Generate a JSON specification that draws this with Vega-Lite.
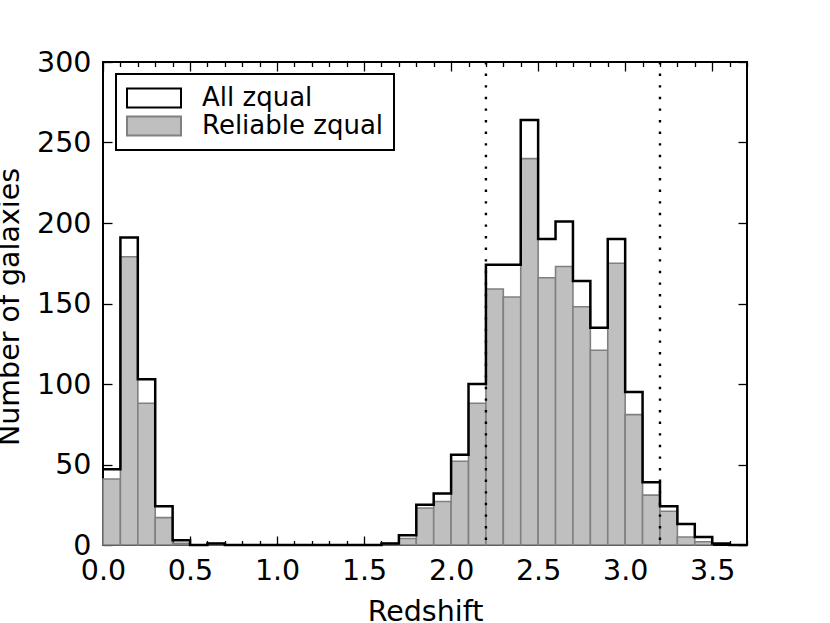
{
  "$schema": "https://vega.github.io/schema/vega-lite/v6.json",
  "width": 644,
  "height": 483,
  "autosize": {"type": "none"},
  "padding": {"left": 103, "top": 62, "right": 83, "bottom": 78},
  "background": "white",
  "config": {
    "view": {"stroke": "black", "strokeWidth": 2},
    "font": "DejaVu Sans",
    "axis": {
      "domain": false,
      "grid": false,
      "tickColor": "black",
      "tickWidth": 1.3,
      "labelColor": "black",
      "labelFont": "DejaVu Sans",
      "labelFontSize": 28.5,
      "titleFont": "DejaVu Sans",
      "titleFontSize": 28.5,
      "titleFontWeight": "normal",
      "titleColor": "black",
      "labelFlush": false,
      "labelOverlap": false
    },
    "legend": {
      "labelFont": "DejaVu Sans",
      "labelFontSize": 26,
      "labelColor": "black",
      "labelLimit": 400,
      "strokeWidth": 2
    }
  },
  "datasets": {
    "bins": [
      {"x0": 0.0, "x1": 0.1, "all": 47, "rel": 41},
      {"x0": 0.1, "x1": 0.2, "all": 191, "rel": 179},
      {"x0": 0.2, "x1": 0.3, "all": 103, "rel": 88},
      {"x0": 0.3, "x1": 0.4, "all": 24, "rel": 17},
      {"x0": 0.4, "x1": 0.5, "all": 3, "rel": 1},
      {"x0": 0.5, "x1": 0.6, "all": 0, "rel": 0},
      {"x0": 0.6, "x1": 0.7, "all": 1, "rel": 1},
      {"x0": 0.7, "x1": 0.8, "all": 0, "rel": 0},
      {"x0": 0.8, "x1": 0.9, "all": 0, "rel": 0},
      {"x0": 0.9, "x1": 1.0, "all": 0, "rel": 0},
      {"x0": 1.0, "x1": 1.1, "all": 0, "rel": 0},
      {"x0": 1.1, "x1": 1.2, "all": 0, "rel": 0},
      {"x0": 1.2, "x1": 1.3, "all": 0, "rel": 0},
      {"x0": 1.3, "x1": 1.4, "all": 0, "rel": 0},
      {"x0": 1.4, "x1": 1.5, "all": 0, "rel": 0},
      {"x0": 1.5, "x1": 1.6, "all": 0, "rel": 0},
      {"x0": 1.6, "x1": 1.7, "all": 1, "rel": 1},
      {"x0": 1.7, "x1": 1.8, "all": 6, "rel": 4},
      {"x0": 1.8, "x1": 1.9, "all": 25, "rel": 23},
      {"x0": 1.9, "x1": 2.0, "all": 32, "rel": 27},
      {"x0": 2.0, "x1": 2.1, "all": 56, "rel": 52},
      {"x0": 2.1, "x1": 2.2, "all": 100, "rel": 88},
      {"x0": 2.2, "x1": 2.3, "all": 174, "rel": 159},
      {"x0": 2.3, "x1": 2.4, "all": 174, "rel": 154},
      {"x0": 2.4, "x1": 2.5, "all": 264, "rel": 240},
      {"x0": 2.5, "x1": 2.6, "all": 190, "rel": 166},
      {"x0": 2.6, "x1": 2.7, "all": 201, "rel": 173},
      {"x0": 2.7, "x1": 2.8, "all": 164, "rel": 148},
      {"x0": 2.8, "x1": 2.9, "all": 135, "rel": 121},
      {"x0": 2.9, "x1": 3.0, "all": 190, "rel": 175},
      {"x0": 3.0, "x1": 3.1, "all": 95, "rel": 81},
      {"x0": 3.1, "x1": 3.2, "all": 39, "rel": 31},
      {"x0": 3.2, "x1": 3.3, "all": 24, "rel": 21},
      {"x0": 3.3, "x1": 3.4, "all": 13, "rel": 5},
      {"x0": 3.4, "x1": 3.5, "all": 5, "rel": 2},
      {"x0": 3.5, "x1": 3.6, "all": 1, "rel": 0},
      {"x0": 3.6, "x1": 3.7, "all": 0, "rel": 0},
      {"x0": 3.7, "x1": 3.7, "all": 0, "rel": 0}
    ],
    "marks": [
      {"z": 2.2},
      {"z": 3.2}
    ]
  },
  "layer": [
    {
      "data": {"name": "bins"},
      "transform": [{"filter": "datum.rel > 0"}],
      "mark": {"type": "rect", "strokeWidth": 1.6, "opacity": 1},
      "encoding": {
        "x": {
          "field": "x0", "type": "quantitative",
          "scale": {"domain": [0, 3.7], "nice": false, "zero": false},
          "axis": {
            "orient": "bottom",
            "title": "Redshift",
            "titleY": 75,
            "titleBaseline": "alphabetic",
            "values": [0,0.1,0.2,0.3,0.4,0.5,0.6,0.7,0.8,0.9,1.0,1.1,1.2,1.3,1.4,1.5,1.6,1.7,1.8,1.9,2.0,2.1,2.2,2.3,2.4,2.5,2.6,2.7,2.8,2.9,3.0,3.1,3.2,3.3,3.4,3.5,3.6,3.7],
            "labelExpr": "abs(datum.value*2 - round(datum.value*2)) < 0.000001 ? format(datum.value, '.1f') : ''",
            "tickSize": {"expr": "abs(datum.value*2 - round(datum.value*2)) < 0.000001 ? -9 : -4.5"},
            "labelPadding": 20.5
          }
        },
        "x2": {"field": "x1"},
        "y": {
          "field": "rel", "type": "quantitative",
          "scale": {"domain": [0, 300], "nice": false},
          "axis": {
            "orient": "left",
            "title": "Number of galaxies",
            "titleX": -85,
            "titleY": 244.5,
            "titleAngle": 270,
            "titleAlign": "center",
            "titleBaseline": "alphabetic",
            "values": [0, 50, 100, 150, 200, 250, 300],
            "format": "d",
            "tickSize": -9,
            "labelPadding": 21
          }
        },
        "y2": {"datum": 0},
        "fill": {
          "datum": "Reliable zqual",
          "scale": {"domain": ["All zqual", "Reliable zqual"], "range": ["white", "#bfbfbf"]},
          "legend": {
            "title": null, "orient": "none", "legendX": 13, "legendY": 12,
            "symbolType": "M-1,-0.352H1V0.352H-1Z", "symbolSize": 2916, "symbolStrokeWidth": 2,
            "labelOffset": 20, "symbolOffset": 0, "padding": 10, "clipHeight": 28, "rowPadding": 0,
            "strokeColor": "black", "fillColor": "white", "cornerRadius": 0
          }
        },
        "stroke": {
          "datum": "Reliable zqual",
          "scale": {"domain": ["All zqual", "Reliable zqual"], "range": ["black", "#808080"]},
          "legend": {
            "title": null, "orient": "none", "legendX": 13, "legendY": 12,
            "symbolType": "M-1,-0.352H1V0.352H-1Z", "symbolSize": 2916, "symbolStrokeWidth": 2,
            "labelOffset": 20, "symbolOffset": 0, "padding": 10, "clipHeight": 28, "rowPadding": 0,
            "strokeColor": "black", "fillColor": "white", "cornerRadius": 0
          }
        }
      }
    },
    {
      "data": {"name": "bins"},
      "mark": {"type": "line", "interpolate": "step-after", "strokeWidth": 2.5},
      "encoding": {
        "x": {
          "field": "x0", "type": "quantitative",
          "axis": {
            "orient": "top",
            "title": null,
            "labels": false,
            "values": [0,0.1,0.2,0.3,0.4,0.5,0.6,0.7,0.8,0.9,1.0,1.1,1.2,1.3,1.4,1.5,1.6,1.7,1.8,1.9,2.0,2.1,2.2,2.3,2.4,2.5,2.6,2.7,2.8,2.9,3.0,3.1,3.2,3.3,3.4,3.5,3.6,3.7],
            "tickSize": {"expr": "abs(datum.value*2 - round(datum.value*2)) < 0.000001 ? -9 : -4.5"}
          }
        },
        "y": {
          "field": "all", "type": "quantitative",
          "axis": {
            "orient": "right",
            "title": null,
            "labels": false,
            "values": [0, 50, 100, 150, 200, 250, 300],
            "tickSize": -9
          }
        },
        "stroke": {
          "datum": "All zqual",
          "scale": {"domain": ["All zqual", "Reliable zqual"], "range": ["black", "#808080"]},
          "legend": {
            "title": null, "orient": "none", "legendX": 13, "legendY": 12,
            "symbolType": "M-1,-0.352H1V0.352H-1Z", "symbolSize": 2916, "symbolStrokeWidth": 2,
            "labelOffset": 20, "symbolOffset": 0, "padding": 10, "clipHeight": 28, "rowPadding": 0,
            "strokeColor": "black", "fillColor": "white", "cornerRadius": 0
          }
        }
      }
    },
    {
      "data": {"name": "marks"},
      "mark": {"type": "rule", "color": "black", "strokeWidth": 2.4, "strokeDash": [2.4, 9.2]},
      "encoding": {
        "x": {"field": "z", "type": "quantitative", "axis": null}
      }
    }
  ],
  "resolve": {"axis": {"x": "independent", "y": "independent"}}
}
